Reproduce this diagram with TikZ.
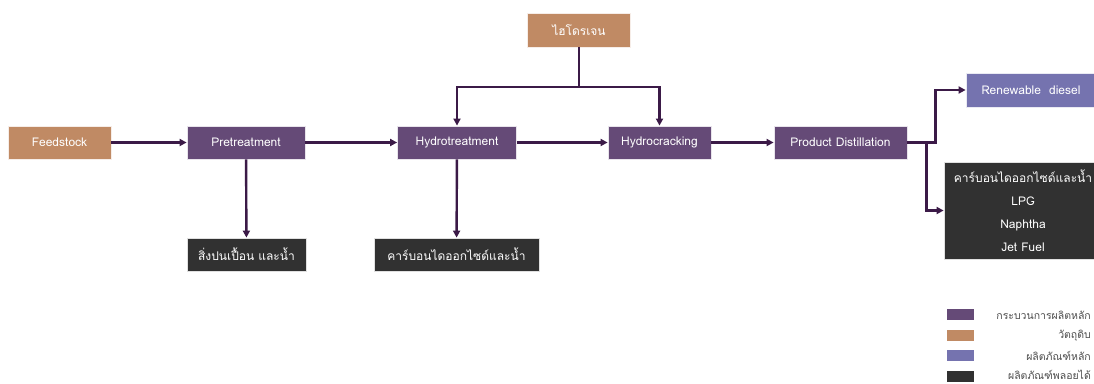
\documentclass[tikz,border=0pt]{standalone}
\usepackage{fontspec}
\setmainfont[Script=Thai]{Loma}
\usetikzlibrary{arrows.meta}
\definecolor{proc}{HTML}{654A77}
\definecolor{raw}{HTML}{C08A64}
\definecolor{prod}{HTML}{7573AF}
\definecolor{byp}{HTML}{313131}
\definecolor{flow}{HTML}{3B1A47}
\tikzset{
  box/.style={draw=white!85!#1,fill=#1,line width=0.8pt,text=white,minimum height=33pt,
              inner sep=2pt,align=center,font=\fontsize{12}{14}\selectfont},
  box/.default=proc,
  arr/.style={-{Triangle[length=7pt,width=7pt]},line width=2.4pt,draw=flow},
  pipe/.style={line width=2.4pt,draw=flow},
  swatch/.style={fill=#1,minimum width=27pt,minimum height=11pt,inner sep=0pt},
  key/.style={anchor=east,text=black!70,font=\fontsize{10.5}{12}\selectfont,inner sep=0pt},
}
\begin{document}
\begin{tikzpicture}[x=1pt,y=-1pt]
  \useasboundingbox (0,0) rectangle (1094,383);
  \clip (0,0) rectangle (1094,383);
  \fill[white] (0,0) rectangle (1094,383);
  % main line
  \node[box=raw,minimum width=103pt] (feed) at (59.5,142.5) {Feedstock};
  \node[box,minimum width=118pt] (pre) at (246,142.5) {Pretreatment};
  \node[box,minimum width=119pt] (ht) at (457,142.5) {Hydrotreatment};
  \node[box,minimum width=103pt] (hc) at (659.5,142.5) {Hydrocracking};
  \node[box,minimum width=133pt] (pd) at (840.5,142.5) {Product Distillation};
  \node[box=raw,minimum width=103pt,minimum height=34pt] (h2) at (579,30) {ไฮโดรเจน};
  % products
  \node[box=prod,minimum width=130pt,minimum height=34pt] (rd) at (1031,90) {Renewable\ \ diesel};
  \node[box=byp,minimum width=158pt,minimum height=97pt,font=\fontsize{12}{23}\selectfont] (by) at (1023,210.5)
       {คาร์บอนไดออกไซด์และน้ำ\\ LPG\\ Naphtha\\ Jet Fuel};
  \node[box=byp,minimum width=119pt] (imp) at (246.5,254.5) {สิ่งปนเปื้อน และน้ำ};
  \node[box=byp,minimum width=165pt] (co2) at (456.5,254.5) {คาร์บอนไดออกไซด์และน้ำ};
  % flows
  \draw[arr] (feed) -- (pre);
  \draw[arr] (pre) -- (ht);
  \draw[arr] (ht) -- (hc);
  \draw[arr] (hc) -- (pd);
  \coordinate (hj) at (579,87);
  \draw[pipe] (h2) -- (hj);
  \draw[arr] (hj) -| (ht);
  \draw[arr] (hj) -| (hc);
  \draw[arr] (pre) -- (imp);
  \draw[arr] (ht) -- (co2);
  \draw[arr] (pd.east) -- ++(28,0) |- (rd.west);
  \draw[arr] (pd.east) -- ++(19,0) |- (by.west);
  % legend
  \node[swatch=proc] (k1) at (960.5,314.5) {};
  \node[swatch=raw] (k2) at (960.5,335.5) {};
  \node[swatch=prod] (k3) at (960.5,355.5) {};
  \node[swatch=byp] (k4) at (960.5,376.5) {};
  \node[key] at (1091,315) {กระบวนการผลิตหลัก};
  \node[key] at (1091,336) {วัตถุดิบ};
  \node[key] at (1091,356) {ผลิตภัณฑ์หลัก};
  \node[key] at (1091,374.5) {ผลิตภัณฑ์พลอยได้};
\end{tikzpicture}
\end{document}
